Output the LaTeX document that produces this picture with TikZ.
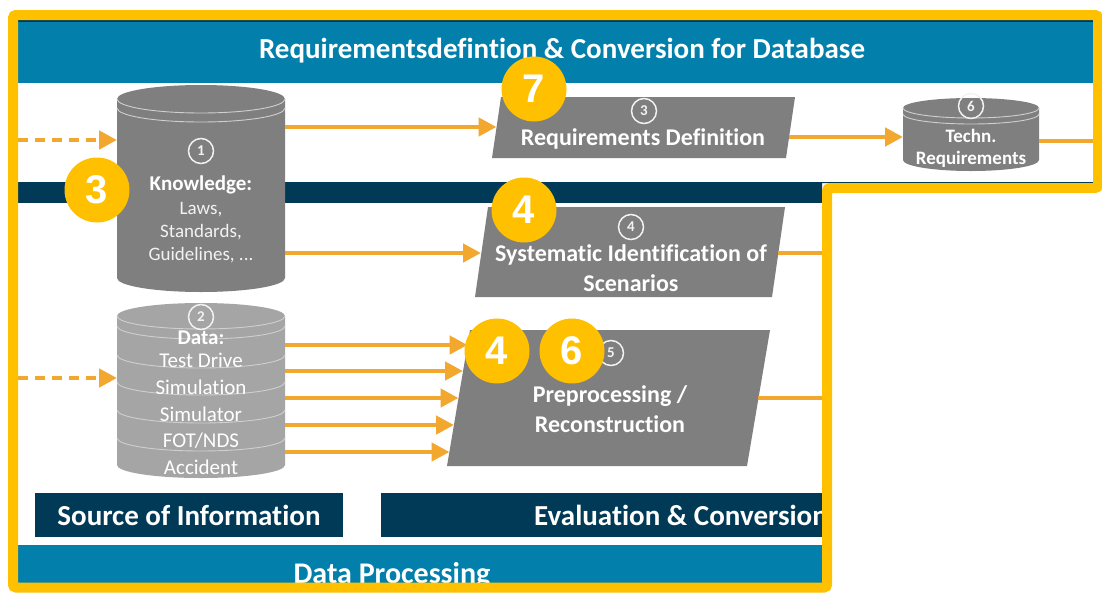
\documentclass[tikz,border=0pt]{standalone}
\usepackage{fontspec}
\setmainfont{Carlito}[Ligatures=NoCommon]
\newfontfamily\numfont{Liberation Sans}
\usetikzlibrary{arrows.meta}
\definecolor{gold}{HTML}{FFC000}
\definecolor{hblue}{HTML}{0280AB}
\definecolor{navy}{HTML}{003A56}
\definecolor{dgray}{HTML}{7F7F7F}
\definecolor{lgray}{HTML}{A5A5A5}
\definecolor{orng}{HTML}{F2A72F}
\definecolor{soft}{HTML}{F2F2F2}
\definecolor{rim}{HTML}{CFCFCF}
\newcommand{\myfs}[1]{\fontsize{#1}{#1}\selectfont}
\begin{document}
\begin{tikzpicture}[x=1pt,y=-1pt,
  arr/.style={draw=orng, line width=4.8pt, -{Triangle[length=18pt,width=18pt]}},
  plainline/.style={draw=orng, line width=4.8pt},
  dasharr/.style={arr, dash pattern=on 10pt off 7pt},
  bignum/.style={circle, fill=gold, minimum size=65pt, inner sep=0pt, text=white, font=\numfont\bfseries\myfs{40}},
  smallnum/.style={circle, draw=soft, line width=1.5pt, minimum size=25pt, inner sep=0pt, text=soft, font=\bfseries\myfs{15}},
  boldlab/.style={text=white, font=\bfseries\myfs{#1}, inner sep=0pt},
  reglab/.style={text=soft, font=\myfs{#1}, inner sep=0pt},
  datalab/.style={text=white, font=\myfs{21}, inner sep=0pt},
  rimline/.style={draw=rim, line width=0.9pt},
  holder/.style={inner sep=0pt, outer sep=0pt},
  navybox/.style={fill=navy, inner sep=0pt, minimum height=44pt, text=white, font=\bfseries\myfs{29}},
]
\useasboundingbox (0,0) rectangle (1102,592);
\fill[white] (0,0) rectangle (1102,592);
\begin{scope}
\clip (18,20) -- (1094,20) -- (1094,183) -- (822,183) -- (822,583) -- (18,583) -- cycle;
% bands
\node[holder, fill=hblue, minimum width=1077pt, minimum height=63pt, anchor=north west] (header) at (18,20) {};
\draw[navy, line width=1.5pt] (18,21) -- (1094,21);
\node[boldlab=29] (htitle) at (562,51) {Requirementsdefintion \& Conversion for Database};
\fill[navy] (18,182) rectangle (1094,203);
\fill[hblue] (18,545) rectangle (822,592);
\node[boldlab=30] (dproc) at (392,576) {Data Processing};
\node[navybox, minimum width=308pt] (src) at (189,515) {Source of Information};
\node[navybox, minimum width=600pt] (eval) at (681,515) {Evaluation \& Conversion};

% knowledge cylinder
\fill[dgray] (117,99) -- (117,278) arc[start angle=180,end angle=360,x radius=84pt,y radius=14pt] -- (285,99) arc[start angle=0,end angle=180,x radius=84pt,y radius=14pt] -- cycle;
\draw[rimline] (117,99) arc[start angle=180,end angle=360,x radius=84pt,y radius=14pt];
\draw[rimline] (117,108) arc[start angle=180,end angle=360,x radius=84pt,y radius=14pt];
\node[holder, minimum width=168pt, minimum height=207pt] (know) at (201,188.5) {};
\node[smallnum] (c1) at (201,151) {1};
\node[boldlab=21] (k1) at (201,185) {Knowledge:};
\node[reglab=19] (k2) at (201,210) {Laws,};
\node[reglab=19] (k3) at (201,232) {Standards,};
\node[reglab=19] (k4) at (201,255) {Guidelines, ...};

% data cylinder
\fill[lgray] (117,316) -- (117,465) arc[start angle=180,end angle=360,x radius=84pt,y radius=13pt] -- (285,316) arc[start angle=0,end angle=180,x radius=84pt,y radius=13pt] -- cycle;
\foreach \yy in {316,326,355,382,410,438}
  \draw[rimline] (117,\yy) arc[start angle=180,end angle=360,x radius=84pt,y radius=13pt];
\node[holder, minimum width=168pt, minimum height=175pt] (data) at (201,390.5) {};
\node[smallnum] (c2) at (201,317) {2};
\node[boldlab=21] (d1) at (201,338) {Data:};
\node[datalab] (d2) at (201,360) {Test Drive};
\node[datalab] (d3) at (201,387) {Simulation};
\node[datalab] (d4) at (201,414) {Simulator};
\node[datalab] (d5) at (201,441) {FOT/NDS};
\node[datalab] (d6) at (201,467) {Accident};

% techn cylinder
\fill[dgray] (903,108) -- (903,160) arc[start angle=180,end angle=360,x radius=68pt,y radius=11pt] -- (1039,108) arc[start angle=0,end angle=180,x radius=68pt,y radius=10pt] -- cycle;
\draw[rimline] (903,108) arc[start angle=180,end angle=360,x radius=68pt,y radius=10pt];
\draw[rimline] (903,114) arc[start angle=180,end angle=360,x radius=68pt,y radius=10pt];
\node[holder, minimum width=136pt, minimum height=73pt] (techn) at (971,134.5) {};
\node[smallnum] (c6) at (971,106) {6};
\node[boldlab=19] (t1) at (971,136) {Techn.};
\node[boldlab=19] (t2) at (971,159) {Requirements};

% requirements definition
\fill[dgray] (501,97) -- (795,97) -- (786,158) -- (492,158) -- cycle;
\node[holder] (reqdef) at (643.5,127.5) {};
\coordinate (rdin) at (496.5,127);
\coordinate (rdout) at (789,137);
\node[smallnum] (c3) at (644,111) {3};
\node[boldlab=24] (r1) at (643,139) {Requirements Definition};

% systematic identification
\fill[dgray] (488,207) -- (785,207) -- (772,297) -- (475,297) -- cycle;
\node[holder] (sysid) at (630,252) {};
\coordinate (siin) at (481,253);
\coordinate (siout) at (778,253);
\node[smallnum] (c4) at (631,227) {4};
\node[boldlab=24] (s1) at (631,255) {Systematic Identification of};
\node[boldlab=24] (s2) at (631,283) {Scenarios};

% preprocessing
\fill[dgray] (470,330) -- (770,330) -- (747,466) -- (447,466) -- cycle;
\node[holder] (prep) at (608,398) {};
\coordinate (pp1) at (467.5,345);
\coordinate (pp2) at (463,371);
\coordinate (pp3) at (458.5,398);
\coordinate (pp4) at (454,425);
\coordinate (pp5) at (449.5,452);
\coordinate (ppout) at (758,398);
\node[smallnum] (c5) at (611,353) {5};
\node[boldlab=24] (p1) at (610,396) {Preprocessing /};
\node[boldlab=24] (p2) at (610,424) {Reconstruction};

% connectors
\coordinate (kin) at (18,140);
\coordinate (din) at (18,378);
\coordinate (tout) at (1100,141);
\coordinate (sout) at (830,253);
\coordinate (pout) at (830,398);
\draw[dasharr] (kin) -- (know.west |- kin);
\draw[dasharr] (din) -- (data.west |- din);
\draw[arr] (know.east |- rdin) -- (rdin);
\draw[arr] (know.east |- siin) -- (siin);
\draw[arr] (rdout) -- (techn.west |- rdout);
\draw[plainline] (techn.east |- tout) -- (tout);
\draw[plainline] (siout) -- (sout);
\draw[plainline] (ppout) -- (pout);
\foreach \p in {pp1,pp2,pp3,pp4,pp5}
  \draw[arr] (data.east |- \p) -- (\p);

% big yellow numbers
\node[bignum] (b7) at (534,89) {7};
\node[bignum] (b3) at (97,190) {3};
\node[bignum] (b4a) at (524,210) {4};
\node[bignum] (b4b) at (497,351) {4};
\node[bignum] (b6) at (572,351) {6};
\end{scope}
% yellow frame
\draw[gold, line width=10pt, rounded corners=3pt] (13,15) -- (1098,15) -- (1098,188) -- (827,188) -- (827,587.5) -- (13,587.5) -- cycle;
\end{tikzpicture}
\end{document}
